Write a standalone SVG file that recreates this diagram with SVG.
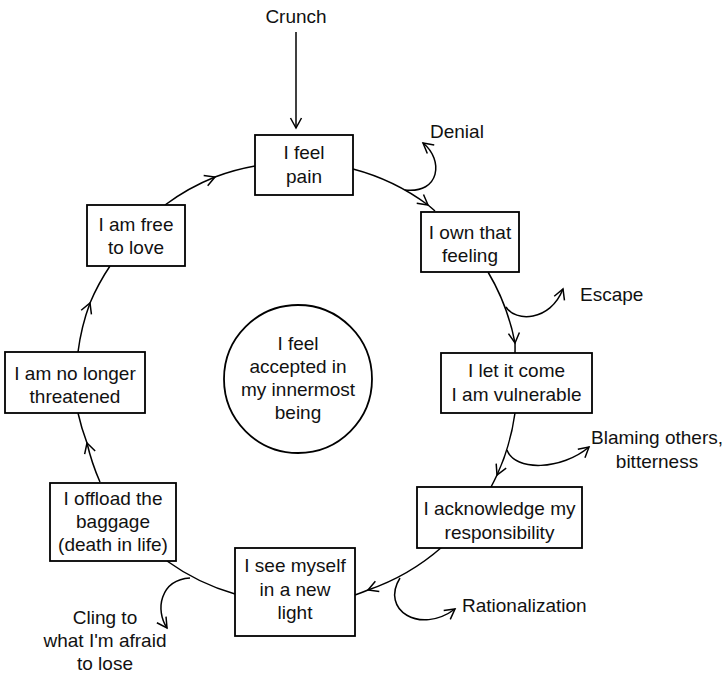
<svg xmlns="http://www.w3.org/2000/svg" width="726" height="676" viewBox="0 0 726 676">
<defs>
<marker id="arr" markerUnits="userSpaceOnUse" viewBox="-12 -8 14 16" refX="0" refY="0" markerWidth="14" markerHeight="16" orient="auto" overflow="visible">
<path d="M-10,-5.5 L0,0 L-10,5.5" fill="none" stroke="#000" stroke-width="1.5"/>
</marker>
<style>
text{font-family:"Liberation Sans",Arial,sans-serif;font-size:19px;fill:#111}
.m{text-anchor:middle}
.box{fill:#fff;stroke:#000;stroke-width:1.8}
.c{fill:none;stroke:#000;stroke-width:1.5}
.mid{marker-mid:url(#arr)}
.end{marker-end:url(#arr)}
</style>
</defs>
<rect width="726" height="676" fill="#fff"/>
<g id="connectors">
<path class="c end" d="M296,32 L296,128"/>
<path class="c mid" d="M353,169 A220,220 0 0 1 428,205 A220,220 0 0 1 435,211"/>
<path class="c mid" d="M488,272 A220,220 0 0 1 515,343 A220,220 0 0 1 515,353"/>
<path class="c mid" d="M515,413 A220,220 0 0 1 497,475 A220,220 0 0 1 491,487"/>
<path class="c mid" d="M442,547 A220,220 0 0 1 368,590 A220,220 0 0 1 355,595"/>
<path class="c" d="M235,594 A220,220 0 0 1 167,561"/>
<path class="c mid" d="M100,482 A220,220 0 0 1 87,443 A220,220 0 0 1 78,413"/>
<path class="c mid" d="M78,352 A220,220 0 0 1 90,303 A220,220 0 0 1 110,266"/>
<path class="c mid" d="M165,205 A220,220 0 0 1 215,177 A220,220 0 0 1 255,166"/>
<path class="c end" d="M405,190 C440,194 444,160 423,143"/>
<path class="c end" d="M506,307 C515,322 550,322 563,289"/>
<path class="c end" d="M507,450 C515,472 562,470 589,447"/>
<path class="c end" d="M400,578 C380,610 420,635 455,609"/>
<path class="c end" d="M190,578 C160,580 155,610 167,628"/>
</g>
<g id="crunch"><text class="m" x="296" y="23">Crunch</text></g>
<g id="denial"><text x="430" y="138">Denial</text></g>
<g id="escape"><text x="580" y="301">Escape</text></g>
<g id="blaming"><text class="m" x="657" y="444">Blaming others,</text><text class="m" x="657" y="468">bitterness</text></g>
<g id="rationalization"><text x="462" y="612">Rationalization</text></g>
<g id="cling"><text class="m" x="105" y="624">Cling to</text><text class="m" x="105" y="647">what I'm afraid</text><text class="m" x="105" y="670">to lose</text></g>
<g id="pain"><rect class="box" x="255" y="135" width="98" height="60"/><text class="m" x="304" y="159">I feel</text><text class="m" x="304" y="183">pain</text></g>
<g id="own"><rect class="box" x="421" y="212" width="98" height="60"/><text class="m" x="470" y="239">I own that</text><text class="m" x="470" y="262">feeling</text></g>
<g id="let"><rect class="box" x="441" y="353" width="151" height="60"/><text class="m" x="516.5" y="377">I let it come</text><text class="m" x="516.5" y="401">I am vulnerable</text></g>
<g id="acknowledge"><rect class="box" x="417" y="487" width="165" height="61"/><text class="m" x="499.5" y="515">I acknowledge my</text><text class="m" x="499.5" y="539">responsibility</text></g>
<g id="see"><rect class="box" x="235" y="548" width="120" height="88"/><text class="m" x="295" y="572">I see myself</text><text class="m" x="295" y="596">in a new</text><text class="m" x="295" y="619">light</text></g>
<g id="offload"><rect class="box" x="50" y="483" width="126" height="78"/><text class="m" x="113" y="505">I offload the</text><text class="m" x="113" y="528">baggage</text><text class="m" x="113" y="551">(death in life)</text></g>
<g id="nolonger"><rect class="box" x="5" y="352" width="140" height="61"/><text class="m" x="75" y="380">I am no longer</text><text class="m" x="75" y="403">threatened</text></g>
<g id="free"><rect class="box" x="87" y="205" width="98" height="61"/><text class="m" x="136" y="231">I am free</text><text class="m" x="136" y="254">to love</text></g>
<g id="accepted"><circle cx="298" cy="379" r="74" fill="#fff" stroke="#000" stroke-width="1.8"/><text class="m" x="298" y="350">I feel</text><text class="m" x="298" y="373">accepted in</text><text class="m" x="298" y="396">my innermost</text><text class="m" x="298" y="419">being</text></g>
</svg>
